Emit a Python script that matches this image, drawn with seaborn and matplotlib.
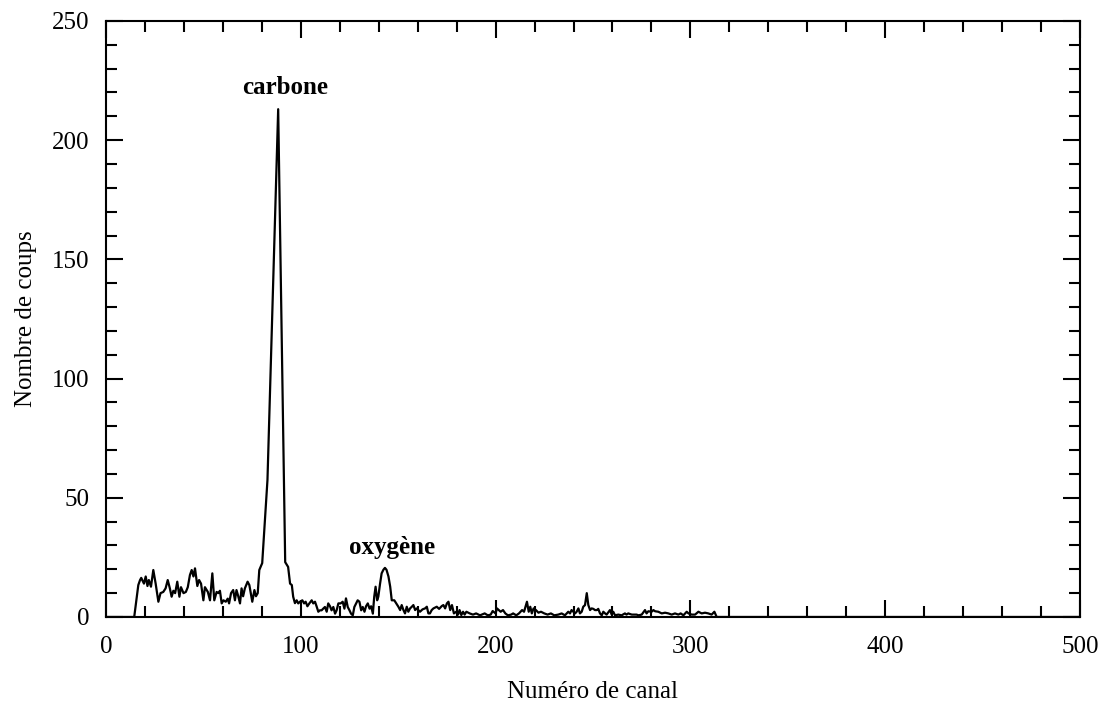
import numpy as np
import pandas as pd
import seaborn as sns
import matplotlib.pyplot as plt
from matplotlib.ticker import MultipleLocator

# spectre (canal, nombre de coups)
canal = [0, 14.5, 16.6, 17.5, 18.1, 19.5, 20.4, 21.3, 22, 23.1, 24.3, 25.5, 26.9, 28, 29.4,
         30.6, 31.7, 32.8, 33.7, 34.6, 35.5, 36.6, 37.7, 38.5, 39.8, 41, 42, 43.1, 44, 44.9,
         45.7, 46.9, 47.8, 48.8, 50, 50.8, 52.3, 53.4, 54.6, 55.6, 56.8, 57.7, 58.5, 59.4,
         60.3, 61.5, 62.5, 63.2, 64.2, 65.3, 66.2, 67, 67.9, 68.8, 69.6, 70.4, 71.3, 72.7,
         73.6, 74.4, 75.1, 76.2, 77, 77.9, 78.7, 79.6, 80.2, 82.9, 88.4, 92, 93.5, 94.5,
         95.4, 96.1, 97, 97.9, 98.7, 99.6, 100.8, 101.7, 102.5, 103.4, 104.4, 105.6, 106.4,
         107.3, 108.1, 109, 109.8, 110.7, 111.5, 112.4, 113.3, 114.1, 115, 115.8, 116.7,
         117.6, 118.4, 119.3, 120.5, 121.5, 122.4, 123.2, 124.1, 125, 125.8, 126.7, 127.5,
         128.4, 129.2, 130.1, 131, 131.8, 132.7, 133.5, 134.4, 135.3, 136.1, 137, 137.7,
         138.4, 139.2, 139.8, 140.7, 141.5, 142.4, 143.2, 144, 145, 145.9, 146.7, 148, 149,
         150.1, 151, 151.8, 152.7, 153.5, 154.4, 155.2, 156.1, 157, 157.8, 158.7, 159.5,
         161.2, 162.5, 163.8, 164.7, 165.5, 166.3, 167.2, 168.1, 169.8, 171, 172.4, 173.2,
         174.1, 175, 175.8, 176.7, 177.6, 178.6, 179.8, 180.7, 181.5, 182.4, 183.3, 184.1,
         185, 186.7, 188.4, 190, 192, 194.4, 196, 197.5, 198.5, 200, 200.7, 202.6, 203.8,
         205, 206.3, 208, 209, 210.6, 212, 213.6, 214.6, 215.6, 216.1, 217, 217.8, 218.6,
         219.5, 220.7, 222, 223.3, 225, 226.7, 228.4, 230.1, 232.2, 233.9, 235.6, 237.3,
         238.2, 239, 240.8, 241.6, 242.5, 243.3, 244.2, 245, 245.9, 246.8, 247.6, 248.5,
         249.3, 250.2, 251, 252, 252.7, 253.6, 254.5, 255.3, 256.2, 257, 258.7, 259.6, 260.4,
         261.3, 263, 264.7, 266.4, 267.2, 268.1, 269.9, 272.4, 273.3, 275, 276.7, 277.5,
         278.4, 280.1, 281, 281.9, 283.5, 285.3, 287, 288.7, 290.4, 292.1, 293.8, 295, 296.4,
         298.1, 299, 300.7, 302.4, 304.1, 305.8, 307.5, 309.2, 310.9, 312.3, 313.5, 500]
coups = [0, 0, 13.4, 15.5, 16.4, 14, 17, 13, 15.5, 12.7, 19.7, 14, 6.4, 10, 10.5,
         12, 15.5, 12, 8.5, 11, 10, 14.8, 8.5, 12.5, 10, 10.5, 12.5, 17.6, 19.7, 17,
         20.4, 13, 15.5, 14, 7, 12.5, 10.5, 7, 18.3, 7, 10.5, 10, 11, 5.7,
         7, 6.4, 7.7, 5.7, 10, 11.3, 7, 11.3, 8.7, 5.7, 12, 8.7, 12, 14.8,
         13.4, 9.8, 6.4, 11.3, 8.7, 10, 19.7, 21.4, 22.6, 57.5, 213, 23, 21, 14,
         13.4, 8.5, 5.8, 7, 5.7, 6.4, 7, 5.7, 6.4, 4.5, 5.7, 7, 5.7,
         6.4, 4.5, 2.2, 2.8, 2.8, 3.5, 4.2, 2.2, 5.7, 4.5, 2.8, 4.2,
         1.4, 2.8, 5.7, 5.7, 6.4, 3.5, 7.8, 4.2, 2.8, 1.4, 0.7, 4.2,
         5.7, 7, 6.4, 2.8, 4.2, 2.2, 4.5, 5.7, 3.5, 4.5, 1.4, 8.5,
         12.7, 7, 8.5, 14, 18.3, 19.8, 20.6, 19.8, 17, 12.7, 7, 7, 5.7,
         4.3, 2.9, 5, 2.9, 1.5, 4.3, 2.2, 3.6, 4.3, 5, 2.9, 3.6,
         2.2, 3.2, 3.6, 4.3, 1.5, 1.5, 2.9, 3.6, 4.3, 3.4, 4.6, 5,
         3.6, 5.7, 6.4, 2.9, 5, 1.5, 2.2, 1, 2.9, 0.8, 2.2, 1,
         2.2, 1.5, 1, 1.5, 0.7, 1.5, 0.7, 1, 2.5, 1.5, 3.6, 2.2, 2.9,
         1.5, 0.7, 1, 1.5, 0.7, 1.5, 2.9, 2.2, 5, 6.4, 2.2, 4.3, 1.5,
         3.6, 2.9, 1.8, 2.2, 1.5, 1, 1.5, 0.7, 1, 1.5, 0.7, 2.2,
         1.5, 2.9, 1.5, 2.2, 3.6, 1.5, 2.2, 4.3, 5, 10, 5, 2.9,
         3.6, 3.4, 2.9, 2.9, 3.4, 1.5, 0.7, 2.2, 1.5, 1, 2.9, 1, 2.2,
         0.7, 1, 0.7, 1.5, 1, 1.5, 1, 1, 0.7, 1, 2.9, 1.5,
         2.4, 2.2, 2.9, 2.4, 2.2, 1.5, 1.8, 1.5, 1, 1.5, 1, 1.5, 0.7,
         2.2, 1.5, 1, 1, 2.2, 1.5, 1.8, 1.5, 1, 2.2, 0, 0]

df = pd.DataFrame({"canal": canal, "coups": coups})

sns.set_style("ticks", {"text.color": "black", "axes.labelcolor": "black",
                        "xtick.color": "black", "ytick.color": "black"})
plt.rcParams['font.family'] = ['Liberation Serif', 'DejaVu Serif']

fig = plt.figure(figsize=(11.05, 7.04), dpi=100)
ax = fig.add_axes([0.0959, 0.1236, 0.8815, 0.8466])

sns.lineplot(data=df, x="canal", y="coups", color="black", linewidth=1.6, ax=ax)

ax.set_xlim(0, 500)
ax.set_ylim(0, 250)
ax.xaxis.set_major_locator(MultipleLocator(100))
ax.xaxis.set_minor_locator(MultipleLocator(20))
ax.yaxis.set_major_locator(MultipleLocator(50))
ax.yaxis.set_minor_locator(MultipleLocator(10))
ax.tick_params(which="both", direction="in", top=True, right=True, width=1.5,
               colors="black", labelsize=18)
ax.tick_params(which="major", length=12)
ax.tick_params(which="minor", length=8)
ax.tick_params(axis="x", pad=14)
ax.tick_params(axis="y", pad=12)
for s in ax.spines.values():
    s.set_linewidth(1.5)
    s.set_color("black")

ax.set_xlabel("Numéro de canal", fontsize=18, labelpad=16, color="black")
ax.set_ylabel("Nombre de coups", fontsize=18, labelpad=11, color="black")

ax.text(91.9, 222, "carbone", fontsize=18, fontweight="bold", ha="center", va="center",
        color="black")
ax.text(146.8, 29, "oxygène", fontsize=18, fontweight="bold", ha="center", va="center",
        color="black")

fig.savefig("out.png", dpi=100)
